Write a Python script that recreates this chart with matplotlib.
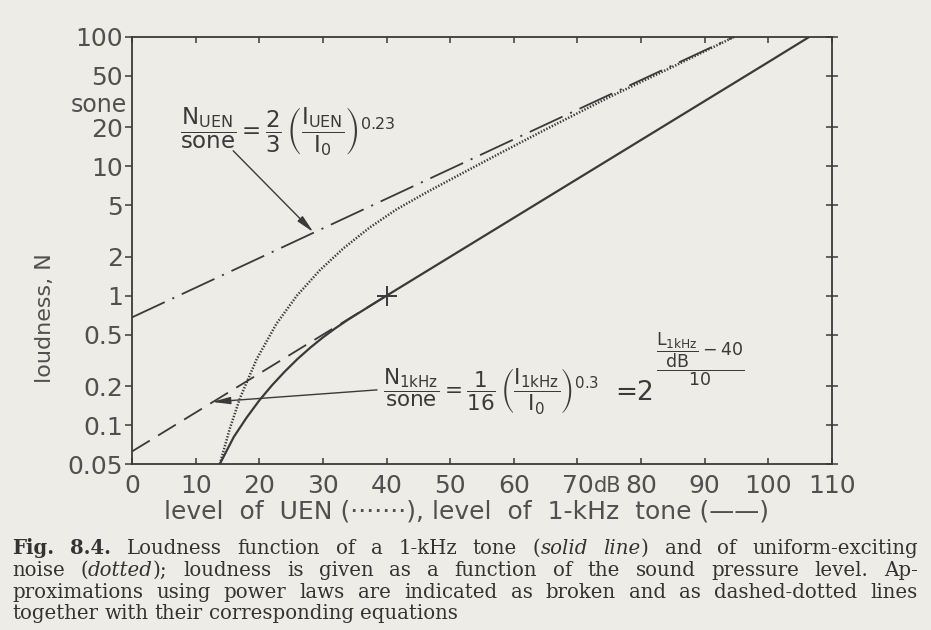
import matplotlib
matplotlib.use('Agg')
import matplotlib.pyplot as plt
from matplotlib.ticker import NullLocator

# ---------------- data ----------------
tone_level = [13.8, 16, 18, 20, 22, 24, 26, 28, 30, 32, 34, 36, 40,
              50, 60, 70, 80, 90, 100, 106.4]
tone_loudness = [0.05, 0.081, 0.114, 0.155, 0.203, 0.259, 0.324, 0.396, 0.476,
                 0.562, 0.655, 0.755, 1.0, 2.0, 4.0, 8.0, 16, 32, 64, 100]

uen_level = [13.8, 15.4, 17, 19.6, 22.7, 25.9, 29.5, 33.2, 37.4, 41.6, 46.3,
             52, 57.8, 65, 75, 85, 94.6]
uen_loudness = [0.05, 0.095, 0.163, 0.324, 0.607, 1.0, 1.57, 2.32, 3.38, 4.66,
                6.3, 8.9, 12.6, 19.3, 34.3, 58.9, 100]

tone_fit_level = [0, 40]          # broken line: N = 1/16 (I/I0)^0.3
tone_fit_loudness = [0.0625, 1.0]
uen_fit_level = [0, 94.5]         # dash-dotted line: N = 2/3 (I/I0)^0.23
uen_fit_loudness = [0.68, 100]

ref_level = [40]
ref_loudness = [1]

x_ticks = [0, 10, 20, 30, 40, 50, 60, 70, 80, 90, 100, 110]
x_tick_labels = ['0', '10', '20', '30', '40', '50', '60', '70', '80', '90', '100', '110']
y_ticks = [0.05, 0.1, 0.2, 0.5, 1, 2, 5, 10, 20, 50, 100]
y_tick_labels = ['0.05', '0.1', '0.2', '0.5', '1', '2', '5', '10', '20', '50', '100']

# ---------------- style ----------------
BG = '#eeece6'
INK = '#3a3a3a'
TXT = '#505050'
plt.rcParams['font.family'] = ['DejaVu Sans']
plt.rcParams['mathtext.fontset'] = 'dejavusans'
plt.rcParams['lines.scale_dashes'] = False

W, H = 931, 630
fig = plt.figure(figsize=(W / 100, H / 100), dpi=100, facecolor=BG)
L0, R0, T0, B0 = 132, 832, 37, 464
ax = fig.add_axes([L0 / W, 1 - B0 / H, (R0 - L0) / W, (B0 - T0) / H])
ax.set_facecolor(BG)
ax.set_yscale('log')
ax.set_xlim(0, 110)
ax.set_ylim(0.05, 100)

for s in ax.spines.values():
    s.set_color(INK)
    s.set_linewidth(1.3)

ax.set_xticks(x_ticks)
ax.set_xticklabels(x_tick_labels)
ax.set_yticks(y_ticks)
ax.set_yticklabels(y_tick_labels)
ax.yaxis.set_minor_locator(NullLocator())
ax.tick_params(axis='x', direction='in', length=4, width=1.1, color=INK,
               top=True, bottom=True, labelsize=18, labelcolor=TXT, pad=7)
ax.tick_params(axis='y', direction='out', length=5, width=1.1, color=INK,
               left=True, right=False, labelsize=18, labelcolor=TXT, pad=1.5)

axr = ax.twinx()
axr.set_yscale('log')
axr.set_ylim(0.05, 100)
axr.set_yticks(y_ticks)
axr.yaxis.set_minor_locator(NullLocator())
axr.tick_params(axis='y', direction='inout', length=9, width=1.1, color=INK,
                labelright=False)
for s in axr.spines.values():
    s.set_visible(False)

# ---------------- curves ----------------
ax.plot(tone_level, tone_loudness, color=INK, lw=1.6, solid_capstyle='butt')
ax.plot(uen_level, uen_loudness, color=INK, lw=1.8, linestyle=(0, (1.0, 1.2)))
ax.plot(tone_fit_level, tone_fit_loudness, color=INK, lw=1.3,
        linestyle=(0, (15, 7)))
ax.plot(uen_fit_level, uen_fit_loudness, color=INK, lw=1.3,
        linestyle=(0, (26, 6, 1.5, 6)))
ax.plot(ref_level, ref_loudness, linestyle='none', marker='+', ms=14, mew=1.4,
        color=INK)

# ---------------- formulas + arrows ----------------
f_uen = (r'$\dfrac{\mathrm{N}_{\mathrm{UEN}}}{\mathrm{sone}} = \dfrac{2}{3}\,'
         r'\left(\dfrac{\mathrm{I}_{\mathrm{UEN}}}{\mathrm{I}_0}\right)^{0.23}$')
ax.text(7.6, 18.5, f_uen, fontsize=16.5, color=INK, ha='left', va='center')
ax.annotate('', xy=(28.5, 3.1), xytext=(15.9, 13.2),
            arrowprops=dict(arrowstyle='-|>,head_length=0.9,head_width=0.18',
                            color=INK, lw=1.0, shrinkA=0, shrinkB=0,
                            mutation_scale=12))

f_tone = (r'$\dfrac{\mathrm{N}_{\mathrm{1kHz}}}{\mathrm{sone}} = \dfrac{1}{16}\,'
          r'\left(\dfrac{\mathrm{I}_{\mathrm{1kHz}}}{\mathrm{I}_0}\right)^{0.3}$')
ax.text(39.4, 0.185, f_tone, fontsize=15.5, color=INK, ha='left', va='center')
ax.text(76.0, 0.178, '=2', fontsize=19, color=INK, ha='left', va='center')
f_exp = r'$\dfrac{\dfrac{\mathrm{L}_{\mathrm{1kHz}}}{\mathrm{dB}} - 40}{10}$'
ax.text(89.3, 0.325, f_exp, fontsize=12.5, color=INK, ha='center', va='center')
ax.annotate('', xy=(12.6, 0.151), xytext=(38.5, 0.187),
            arrowprops=dict(arrowstyle='-|>,head_length=0.9,head_width=0.18',
                            color=INK, lw=1.0, shrinkA=0, shrinkB=0,
                            mutation_scale=12))

# ---------------- axis texts ----------------
ax.annotate('dB', xy=(70, 0.05), xycoords='data', xytext=(16, -12),
            textcoords='offset pixels', ha='left', va='top', fontsize=15,
            color=TXT)
ax.annotate('sone', xy=(0, 30), xycoords='data', xytext=(-5, 0),
            textcoords='offset pixels', ha='right', va='center', fontsize=17,
            color=TXT)
fig.text(45 / W, 1 - 318 / H, 'loudness, N', rotation=90, fontsize=16,
         color=TXT, ha='center', va='center')
fig.text(466 / W, 1 - 511 / H,
         'level  of  UEN (\u00b7\u00b7\u00b7\u00b7\u00b7\u00b7\u00b7), level  of  1-kHz  tone (\u2014\u2014)',
         fontsize=18, color=TXT, ha='center', va='center')

# ---------------- caption (justified) ----------------
CAP = '#333333'
CAP_SIZE = 14.2
renderer = fig.canvas.get_renderer()


def place_line(tokens, base_px, x0=12, x1=918, justify=True):
    placed = []
    for tok in tokens:
        segs = []
        for txt, st in tok:
            t = fig.text(0, 1 - base_px / H, txt, fontsize=CAP_SIZE,
                         family='DejaVu Serif', color=CAP,
                         fontweight='bold' if st == 'b' else 'normal',
                         fontstyle='italic' if st == 'i' else 'normal',
                         ha='left', va='baseline')
            segs.append((t, t.get_window_extent(renderer).width))
        placed.append(segs)
    widths = [sum(w for _, w in segs) for segs in placed]
    if justify and len(placed) > 1:
        gap = (x1 - x0 - sum(widths)) / (len(placed) - 1)
    else:
        sp = fig.text(0, 0, 'a a', fontsize=CAP_SIZE, family='DejaVu Serif')
        sp2 = fig.text(0, 0, 'aa', fontsize=CAP_SIZE, family='DejaVu Serif')
        gap = sp.get_window_extent(renderer).width - sp2.get_window_extent(renderer).width
        sp.remove()
        sp2.remove()
    x = x0
    for segs, w in zip(placed, widths):
        xx = x
        for t, sw in segs:
            t.set_x(xx / W)
            xx += sw
        x += w + gap


def n(word):
    return [(word, 'n')]


line1 = [[('Fig.', 'b')], [('8.4.', 'b')]] + [n(w) for w in
         'Loudness function of a 1-kHz tone'.split()] + \
        [[('(', 'n'), ('solid', 'i')], [('line', 'i'), (')', 'n')]] + \
        [n(w) for w in 'and of uniform-exciting'.split()]
line2 = [n('noise'), [('(', 'n'), ('dotted', 'i'), (');', 'n')]] + \
        [n(w) for w in 'loudness is given as a function of the sound pressure level. Ap-'.split()]
line3 = [n(w) for w in
         'proximations using power laws are indicated as broken and as dashed-dotted lines'.split()]
line4 = [n(w) for w in 'together with their corresponding equations'.split()]

place_line(line1, 554)
place_line(line2, 576)
place_line(line3, 598)
place_line(line4, 619, justify=False)

fig.savefig('out.png', dpi=100, facecolor=BG)
